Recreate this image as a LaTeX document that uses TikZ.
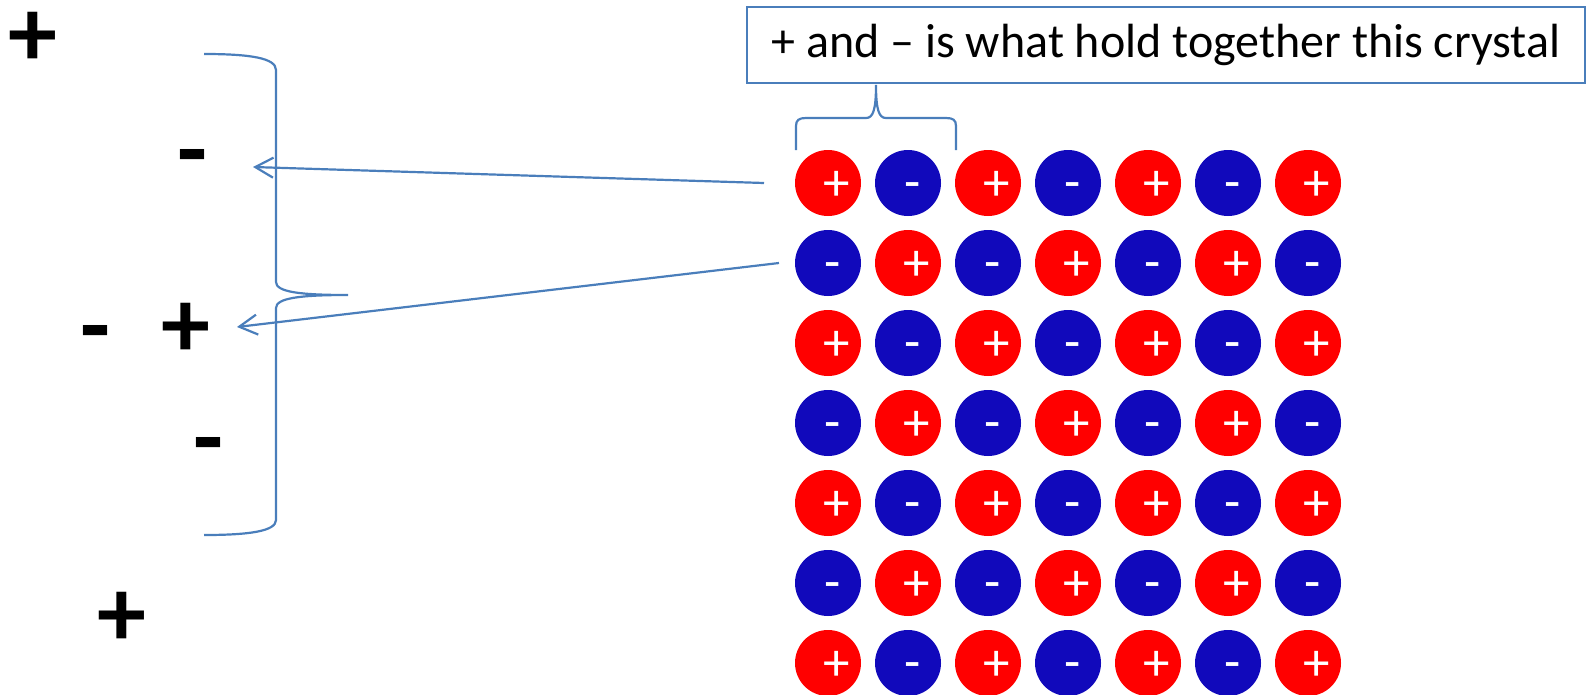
\documentclass[tikz,border=0pt]{standalone}
\usepackage{fontspec}
\setmainfont{Carlito}
\usetikzlibrary{arrows.meta,calc}
\definecolor{pblue}{RGB}{74,126,187}
\definecolor{ionred}{RGB}{255,0,0}
\definecolor{ionblue}{RGB}{17,9,187}
\begin{document}
\begin{tikzpicture}[x=1pt,y=-1pt,
  ion/.style={circle, minimum size=66pt, inner sep=0pt},
  posion/.style={ion, fill=ionred},
  negion/.style={ion, fill=ionblue},
  itext/.style={text=white, font=\fontsize{53}{56}\selectfont, inner sep=0pt},
  bigch/.style={font=\bfseries\fontsize{98}{100}\selectfont, inner sep=0pt},
  conn/.style={draw=pblue, line width=2.2pt},
  arr/.style={conn, -{Straight Barb[length=18pt,width=20pt]}},
  titlebox/.style={draw=pblue, line width=2pt, minimum width=838pt, minimum height=76pt, inner sep=0pt, font=\fontsize{48}{52}\selectfont}
]
\useasboundingbox (0,0) rectangle (1587,694);

% title
\node[titlebox] (title) at (1166,45) {+ and -- is what hold together this crystal};

% lattice
\foreach \r in {1,...,7}{
  \foreach \c in {1,...,7}{
    \pgfmathtruncatemacro\parity{mod(\r+\c,2)}
    \ifnum\parity=0
      \node[posion] (c-\r-\c) at ({828+80*(\c-1)},{183+80*(\r-1)}) {};
      \node[itext] (t-\r-\c) at ($(c-\r-\c)+(8.5,3)$) {+};
    \else
      \node[negion] (c-\r-\c) at ({828+80*(\c-1)},{183+80*(\r-1)}) {};
      \node[itext] (t-\r-\c) at ($(c-\r-\c)+(4.5,2)$) {\vphantom{+}-};
    \fi
  }
}

% left charges
\node[bigch] (p1) at (33,39) {+};
\node[bigch] (m1) at (192,155) {\vphantom{+}-};
\node[bigch] (m2) at (96,331) {\vphantom{+}-};
\node[bigch] (p2) at (186,330) {+};
\node[bigch] (m3) at (208,443) {\vphantom{+}-};
\node[bigch] (p3) at (122,619) {+};

% left brace
\coordinate (lbtop) at (204,54);
\coordinate (lbtip) at (348,295);
\coordinate (lbbot) at (204,535);
\draw[conn] (lbtop) .. controls (250,54) and (276,58) .. (276,70) -- (276,282)
  .. controls (276,292) and (300,295) .. (lbtip)
  .. controls (300,295) and (276,298) .. (276,308) -- (276,520)
  .. controls (276,531) and (250,535) .. (lbbot);

% top brace
\coordinate (tbl) at (796,150);
\coordinate (tbtip) at (876,85);
\coordinate (tbr) at (956,150);
\draw[conn] (tbl) -- (796,126) .. controls (796,120) and (799,118) .. (806,118) -- (866,118)
  .. controls (873,118) and (876,110) .. (tbtip)
  .. controls (876,110) and (879,118) .. (886,118) -- (946,118)
  .. controls (953,118) and (956,120) .. (956,126) -- (tbr);

% arrows
\coordinate (a1s) at (764,183);
\coordinate (a1e) at (253,167);
\coordinate (a2s) at (779,263);
\coordinate (a2e) at (237,327);
\draw[arr] (a1s) -- (a1e);
\draw[arr] (a2s) -- (a2e);
\end{tikzpicture}
\end{document}
